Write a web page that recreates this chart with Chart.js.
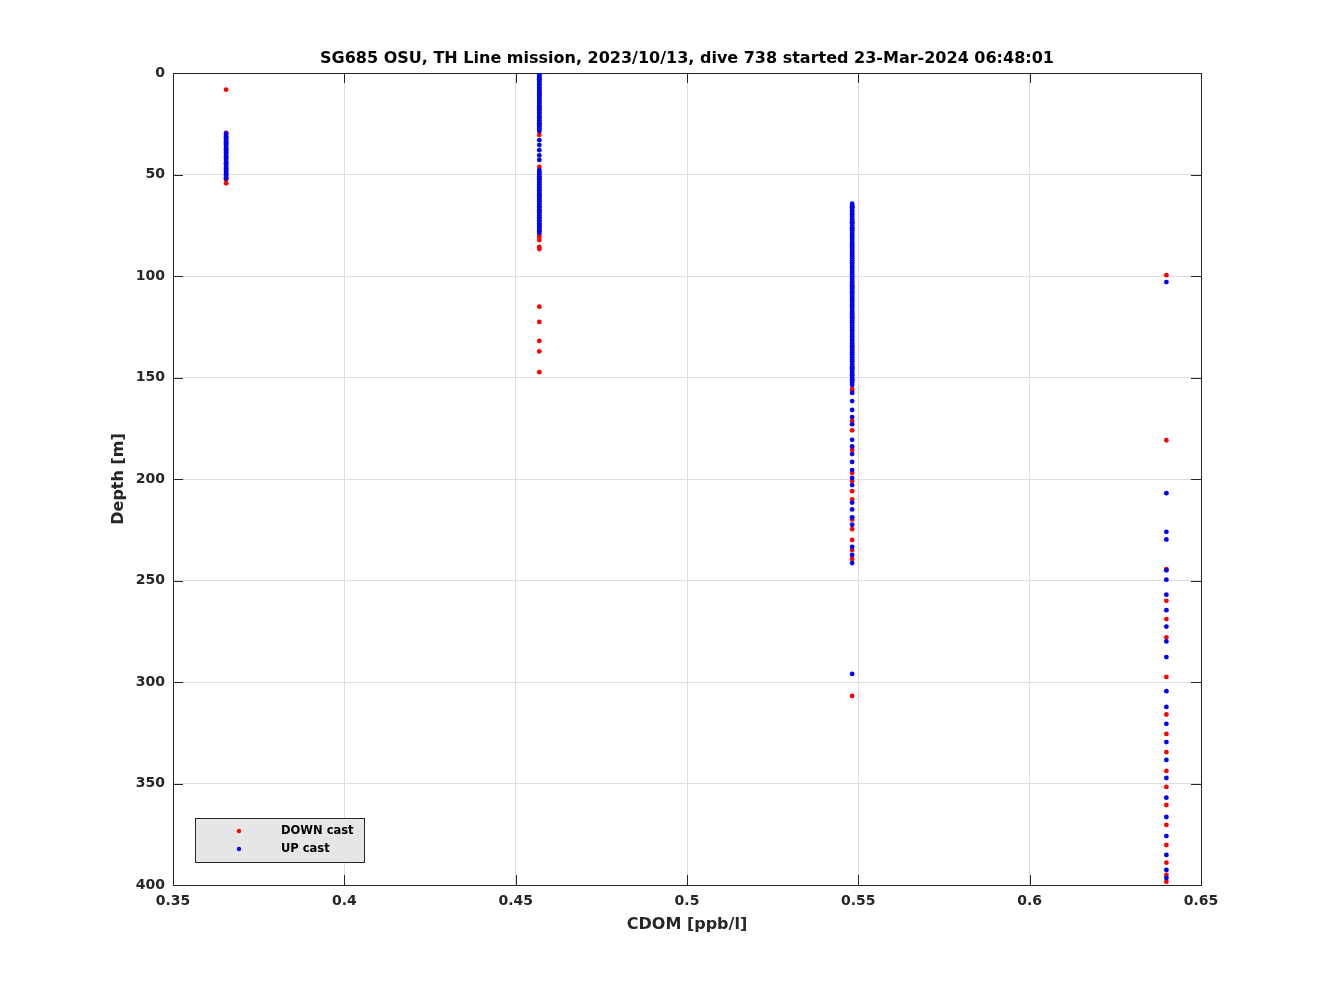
<!DOCTYPE html>
<html>
<head>
<meta charset="utf-8">
<script src="https://cdn.jsdelivr.net/npm/chart.js@4.4.0/dist/chart.umd.min.js"></script>
<style>
  html, body { margin: 0; padding: 0; background: #fff; }
  #wrap { width: 1328px; height: 996px; }
</style>
</head>
<body>
<div id="wrap"><canvas id="cdomChart" width="1328" height="996"></canvas></div>
<script>
// CDOM value of each column of samples (ppb/l)
const cdomLevels = [0.3655, 0.4569, 0.5482, 0.6399];

// depth [m] of the DOWN cast samples, one array per CDOM column
const downCol1 = [8.2, 29.5, 31.8, 34.6, 37.9, 41.2, 44.5, 47.3, 50.1, 52.4, 54.3];
const downCol2 = [0.4, 3.1, 10.2, 18.0, 25.3, 30.5, 46.2, 52.0, 60.1, 68.3, 75.2, 79.8, 80.8, 82.3, 85.7, 86.7,
  115.1, 122.6, 132.0, 137.1, 147.4];
const downCol3 = [65.8, 73.5, 76.5, 90.2, 105.3, 120.4, 135.1, 145.0, 151.0, 155.7, 156.4, 171.4, 176.0, 185.7,
  197.0, 201.0, 206.0, 210.0, 220.0, 224.7, 230.0, 235.0, 239.4, 306.9];
const downCol4 = [99.6, 180.9, 244.4, 260.0, 269.0, 278.0, 297.5, 316.0, 325.6, 334.5, 343.8, 351.7, 360.6,
  370.4, 380.3, 389.0, 395.0, 398.4];

// depth [m] of the UP cast samples
const upCol1 = [29.8, 30.6, 31.3, 32.1, 32.9, 33.6, 34.4, 35.2, 36.0, 36.7, 37.5, 38.3, 39.0, 39.8, 40.6, 41.4,
  42.1, 42.9, 43.7, 44.4, 45.2, 46.0, 46.8, 47.5, 48.3, 49.1, 49.8, 50.6, 51.3, 52.0];
const upCol2 = [0.2, 0.9, 1.7, 2.5, 3.2, 4.0, 4.8, 5.6, 6.3, 7.1, 7.9, 8.6, 9.4, 10.2, 11.0, 11.7, 12.5, 13.3,
  14.0, 14.8, 15.6, 16.4, 17.1, 17.9, 18.7, 19.4, 20.2, 21.0, 21.8, 22.5, 23.3, 24.1, 24.8, 25.6, 26.4, 27.2,
  27.9, 28.6, 33.1, 35.5, 38.0, 40.6, 42.8, 47.8, 48.6, 49.3, 50.1, 50.9, 51.7, 52.4, 53.2, 54.0, 54.8, 55.5,
  56.3, 57.1, 57.8, 58.6, 59.4, 60.2, 60.9, 61.7, 62.5, 63.2, 64.0, 64.8, 65.6, 66.3, 67.1, 67.9, 68.6, 69.4,
  70.2, 71.0, 71.7, 72.5, 73.3, 74.0, 74.8, 75.6, 76.4, 77.1, 77.9, 78.7];
const upCol3 = [64.4, 65.3, 66.1, 67.0, 67.9, 68.8, 69.6, 70.5, 71.4, 72.2, 73.1, 74.0, 74.9, 75.7, 76.6, 77.5,
  78.3, 79.2, 80.1, 81.0, 81.8, 82.7, 83.6, 84.4, 85.3, 86.2, 87.1, 87.9, 88.8, 89.7, 90.5, 91.4, 92.3, 93.2,
  94.0, 94.9, 95.8, 96.6, 97.5, 98.4, 99.3, 100.1, 101.0, 101.9, 102.7, 103.6, 104.5, 105.4, 106.2, 107.1,
  108.0, 108.8, 109.7, 110.6, 111.5, 112.3, 113.2, 114.1, 114.9, 115.8, 116.7, 117.6, 118.4, 119.3, 120.2,
  121.0, 121.9, 122.8, 123.7, 124.5, 125.4, 126.3, 127.1, 128.0, 128.9, 129.8, 130.6, 131.5, 132.4, 133.2,
  134.1, 135.0, 135.9, 136.7, 137.6, 138.5, 139.3, 140.2, 141.1, 142.0, 142.8, 143.7, 144.6, 145.4, 146.3,
  147.2, 148.1, 148.9, 149.8, 150.7, 151.5, 152.4, 153.7, 157.6, 161.6, 166.0, 169.5, 173.0, 180.7, 184.0,
  187.7, 191.6, 195.6, 199.5, 203.0, 211.6, 215.0, 218.9, 222.5, 233.5, 237.4, 241.4, 296.0];
const upCol4 = [103.0, 207.0, 226.0, 229.8, 245.0, 249.6, 257.0, 264.6, 272.7, 280.0, 287.7, 304.5, 312.3,
  320.6, 329.6, 338.4, 347.3, 357.0, 366.5, 375.9, 385.2, 392.6, 396.5];

const xTicks = [0.35, 0.4, 0.45, 0.5, 0.55, 0.6, 0.65];
const yTicks = [0, 50, 100, 150, 200, 250, 300, 350, 400];

const titleText = "SG685 OSU, TH Line mission, 2023/10/13, dive 738 started 23-Mar-2024 06:48:01";

const downCols = [downCol1, downCol2, downCol3, downCol4];
const upCols = [upCol1, upCol2, upCol3, upCol4];

function toPoints(cols) {
  const pts = [];
  cols.forEach((depths, i) => {
    depths.forEach(d => pts.push({ x: cdomLevels[i], y: d }));
  });
  return pts;
}

const axisColor = "#262626";
const fontFamily = "'DejaVu Sans', sans-serif";

// matlab style box with inward ticks on all four sides, title over the axes
const boxPlugin = {
  id: "boxPlugin",
  beforeDatasetsDraw(chart) {
    const { ctx, chartArea: a, scales } = chart;
    ctx.save();
    ctx.strokeStyle = axisColor;
    ctx.lineWidth = 1;
    const len = 10;
    xTicks.forEach(v => {
      const px = Math.round(scales.x.getPixelForValue(v)) + 0.5;
      ctx.beginPath();
      ctx.moveTo(px, a.bottom); ctx.lineTo(px, a.bottom - len);
      ctx.moveTo(px, a.top); ctx.lineTo(px, a.top + len);
      ctx.stroke();
    });
    yTicks.forEach(v => {
      const py = Math.round(scales.y.getPixelForValue(v)) + 0.5;
      ctx.beginPath();
      ctx.moveTo(a.left, py); ctx.lineTo(a.left + len, py);
      ctx.moveTo(a.right, py); ctx.lineTo(a.right - len, py);
      ctx.stroke();
    });
    ctx.strokeRect(Math.round(a.left) + 0.5, Math.round(a.top) + 0.5,
      Math.round(a.right - a.left), Math.round(a.bottom - a.top));

    ctx.fillStyle = "#000";
    ctx.font = "bold 16px " + fontFamily;
    ctx.textAlign = "center";
    ctx.textBaseline = "middle";
    ctx.fillText(titleText, (a.left + a.right) / 2, a.top - 14);
    ctx.restore();
  },
  afterDatasetsDraw(chart) {
    // legend box in the lower left corner
    const { ctx, chartArea: a } = chart;
    const bx = a.left + 22, bw = 169, bh = 44, by = a.bottom - 23 - bh;
    ctx.save();
    ctx.fillStyle = "#e6e6e6";
    ctx.fillRect(bx, by, bw, bh);
    ctx.strokeStyle = axisColor;
    ctx.lineWidth = 1;
    ctx.strokeRect(bx + 0.5, by + 0.5, bw, bh);
    ctx.font = "bold 11.5px " + fontFamily;
    ctx.textBaseline = "middle";
    chart.data.datasets.forEach((ds, i) => {
      const cy = by + 13 + i * 18;
      ctx.fillStyle = ds.backgroundColor;
      ctx.beginPath();
      ctx.arc(bx + 44, cy, 2.2, 0, Math.PI * 2);
      ctx.fill();
      ctx.fillStyle = "#000";
      ctx.fillText(ds.label, bx + 86, cy);
    });
    ctx.restore();
  }
};

const config = {
  type: "scatter",
  data: {
    datasets: [
      {
        label: "DOWN cast",
        data: toPoints(downCols),
        backgroundColor: "#ff0000",
        borderColor: "#ff0000",
        pointRadius: 2.4,
        borderWidth: 0,
        order: 1,
      },
      {
        label: "UP cast",
        data: toPoints(upCols),
        backgroundColor: "#0000ff",
        borderColor: "#0000ff",
        pointRadius: 2.4,
        borderWidth: 0,
        order: 0,
      },
    ],
  },
  options: {
    responsive: false,
    animation: false,
    layout: { padding: { left: 0, right: 127, top: 73, bottom: 0 } },
    plugins: {
      legend: { display: false },
      tooltip: { enabled: false },
      title: { display: false },
    },
    scales: {
      x: {
        type: "linear",
        min: 0.35,
        max: 0.65,
        afterFit: s => { s.height = 111; },
        afterBuildTicks: s => { s.ticks = xTicks.map(v => ({ value: v })); },
        grid: { color: "#dedede", drawTicks: false },
        border: { display: false },
        ticks: {
          padding: 8,
          color: axisColor,
          font: { family: fontFamily, size: 14, weight: "bold" },
          maxRotation: 0,
          callback: v => String(v),
        },
        title: {
          display: true,
          text: "CDOM [ppb/l]",
          color: axisColor,
          font: { family: fontFamily, size: 16, weight: "bold" },
          padding: { top: 0, bottom: 62 },
        },
      },
      y: {
        type: "linear",
        reverse: true,
        min: 0,
        max: 400,
        afterFit: s => { s.width = 173; },
        afterBuildTicks: s => { s.ticks = yTicks.map(v => ({ value: v })); },
        grid: { color: "#dedede", drawTicks: false },
        border: { display: false },
        ticks: {
          padding: 8,
          color: axisColor,
          font: { family: fontFamily, size: 14, weight: "bold" },
          callback: v => String(v),
        },
        title: {
          display: true,
          text: "Depth [m]",
          color: axisColor,
          font: { family: fontFamily, size: 16, weight: "bold" },
          padding: { top: 109, bottom: 0 },
        },
      },
    },
  },
  plugins: [boxPlugin],
};

const ctx = document.getElementById("cdomChart").getContext("2d");
const chart = new Chart(ctx, config);
</script>
</body>
</html>
